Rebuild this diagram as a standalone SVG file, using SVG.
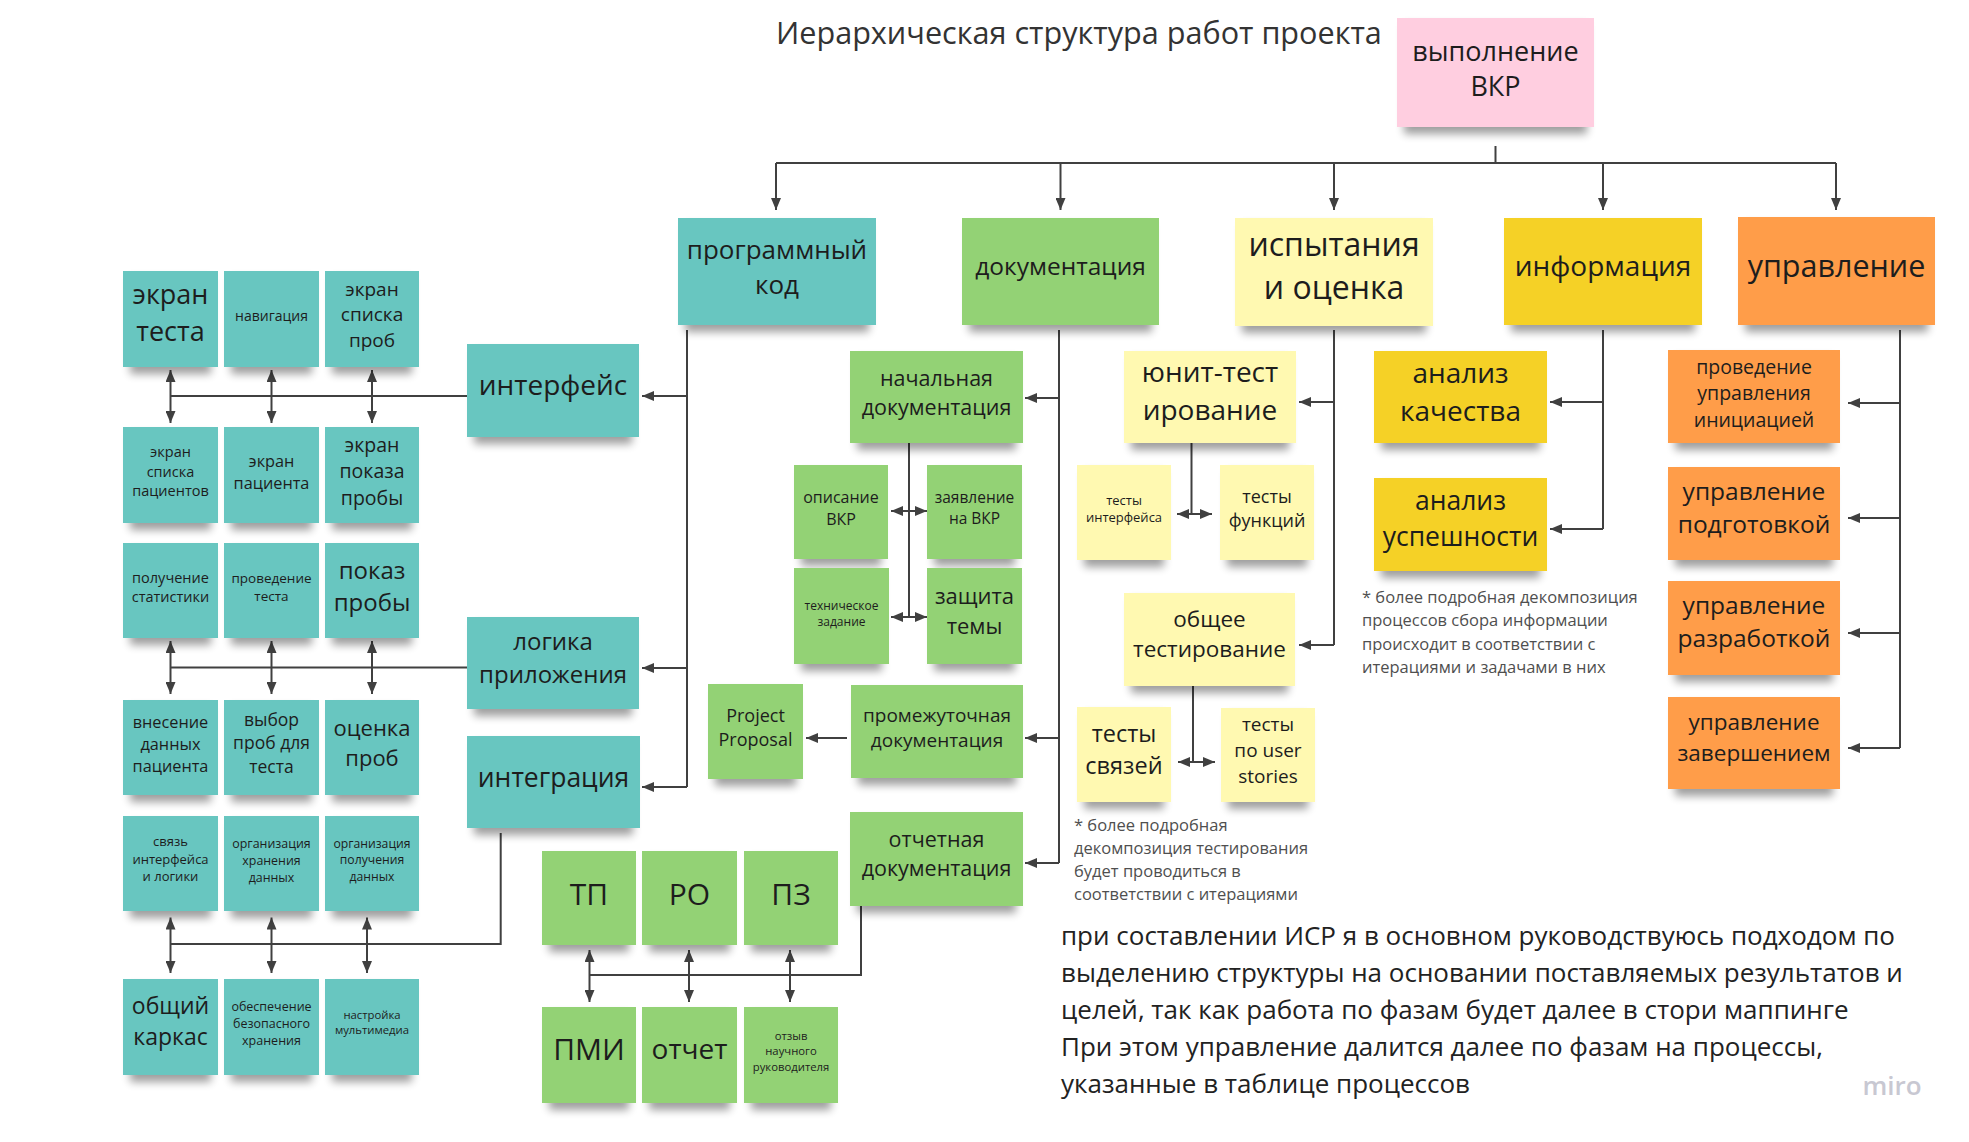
<svg xmlns="http://www.w3.org/2000/svg" width="1969" height="1142" viewBox="0 0 1969 1142">
<style>
text { font-family: "Open Sans", "Noto Sans", "DejaVu Sans", sans-serif; fill: #1d1d1d; text-anchor: middle; }
.lt { text-anchor: start; }
.note { fill: #4f4f4f; font-size: 16.5px; }
.s { filter: url(#sh); }
.teal { fill: #67c6c0; }
.green { fill: #93d275; }
.ly { fill: #fff9b1; }
.yel { fill: #f5d128; }
.org { fill: #ff9d48; }
.pink { fill: #ffcee0; }
.c { stroke: #404040; stroke-width: 2; fill: none; }
.a { marker-end: url(#ah); }
.d { marker-start: url(#ah); marker-end: url(#ah); }
</style>
<defs>
<filter id="sh" x="-10%" y="-10%" width="120%" height="140%">
<feMorphology in="SourceAlpha" operator="erode" radius="7 0" result="e"/>
<feOffset in="e" dy="7" result="o"/>
<feGaussianBlur in="o" stdDeviation="4" result="b"/>
<feComponentTransfer in="b" result="t"><feFuncA type="linear" slope="0.38"/></feComponentTransfer>
<feMerge><feMergeNode in="t"/><feMergeNode in="SourceGraphic"/></feMerge>
</filter>
<marker id="ah" viewBox="0 0 12 10" refX="12" refY="5" markerWidth="12" markerHeight="10" markerUnits="userSpaceOnUse" orient="auto-start-reverse">
<path d="M0,0 L12,5 L0,10 z" fill="#404040"/>
</marker>
</defs>
<rect width="1969" height="1142" fill="#ffffff"/>

<text class="lt" x="776" y="44" font-size="30.6" style="fill:#333">Иерархическая структура работ проекта</text>

<g id="connectors">
<path class="c" d="M1495.5,146 V163"/>
<path class="c" d="M776,163 H1836"/>
<path class="c a" d="M776,163 V210"/>
<path class="c a" d="M1060.5,163 V210"/>
<path class="c a" d="M1334,163 V210"/>
<path class="c a" d="M1603,163 V210"/>
<path class="c a" d="M1836,163 V210"/>
<path class="c" d="M687,330 V787"/>
<path class="c a" d="M687,396 H642"/>
<path class="c a" d="M687,668 H642"/>
<path class="c a" d="M687,787 H642"/>
<path class="c" d="M170.5,396 H467"/>
<path class="c d" d="M170.5,370 V423"/>
<path class="c d" d="M271.5,370 V423"/>
<path class="c d" d="M372,370 V423"/>
<path class="c" d="M170.5,667.5 H467"/>
<path class="c d" d="M170.5,641 V694"/>
<path class="c d" d="M271.5,641 V694"/>
<path class="c d" d="M372,641 V694"/>
<path class="c" d="M500.7,833 V944 H170.5"/>
<path class="c d" d="M170.5,917.5 V973"/>
<path class="c d" d="M271.5,917.5 V973"/>
<path class="c d" d="M367,917.5 V973"/>
<path class="c" d="M1059,330 V863"/>
<path class="c a" d="M1059,398 H1025"/>
<path class="c a" d="M1059,738 H1025"/>
<path class="c a" d="M1059,863 H1025"/>
<path class="c" d="M909,443 V617"/>
<path class="c d" d="M891,511 H927"/>
<path class="c d" d="M891,617 H927"/>
<path class="c a" d="M847,738 H806"/>
<path class="c" d="M861,906 V975 H589.5"/>
<path class="c d" d="M589.5,950 V1002"/>
<path class="c d" d="M689,950 V1002"/>
<path class="c d" d="M790,950 V1002"/>
<path class="c" d="M1334,330 V645"/>
<path class="c a" d="M1334,402 H1299"/>
<path class="c a" d="M1334,645 H1299"/>
<path class="c" d="M1191.5,443 V514"/>
<path class="c d" d="M1177,514 H1212"/>
<path class="c" d="M1193,686 V762"/>
<path class="c d" d="M1178,762 H1215"/>
<path class="c" d="M1603,330 V529"/>
<path class="c a" d="M1603,402 H1550"/>
<path class="c a" d="M1603,529 H1550"/>
<path class="c" d="M1900,330 V748"/>
<path class="c a" d="M1900,403 H1848"/>
<path class="c a" d="M1900,518 H1848"/>
<path class="c a" d="M1900,633 H1848"/>
<path class="c a" d="M1900,748 H1848"/>
</g>

<g id="n-root"><rect class="s pink" x="1397" y="18" width="197" height="109"/><text x="1495.5" y="61" font-size="27"><tspan x="1495.5">выполнение</tspan><tspan x="1495.5" dy="35.4">ВКР</tspan></text></g>

<g id="n-code"><rect class="s teal" x="678" y="218" width="198" height="107"/><text x="777" y="258.5" font-size="26"><tspan x="777">программный</tspan><tspan x="777" dy="35.4">код</tspan></text></g>
<g id="n-docs"><rect class="s green" x="962" y="218" width="197" height="107"/><text x="1060.5" y="275" font-size="24.5">документация</text></g>
<g id="n-tests"><rect class="s ly" x="1235" y="218" width="198" height="108"/><text x="1334" y="255.5" font-size="32"><tspan x="1334">испытания</tspan><tspan x="1334" dy="43.5">и оценка</tspan></text></g>
<g id="n-info"><rect class="s yel" x="1504" y="218" width="198" height="107"/><text x="1603" y="276" font-size="28">информация</text></g>
<g id="n-mgmt"><rect class="s org" x="1738" y="217" width="197" height="108"/><text x="1836.5" y="277" font-size="30.5">управление</text></g>

<g id="n-interface"><rect class="s teal" x="467" y="344" width="172" height="93"/><text x="553" y="395" font-size="28">интерфейс</text></g>
<g id="n-logic"><rect class="s teal" x="467" y="617" width="172" height="92"/><text x="553" y="650" font-size="24"><tspan x="553">логика</tspan><tspan x="553" dy="32.6">приложения</tspan></text></g>
<g id="n-integration"><rect class="s teal" x="467" y="736" width="173" height="92"/><text x="553.5" y="787" font-size="26.5">интеграция</text></g>

<g id="n-r1c1"><rect class="s teal" x="123" y="271" width="95" height="96"/><text x="170.5" y="304" font-size="27"><tspan x="170.5">экран</tspan><tspan x="170.5" dy="36.7">теста</tspan></text></g>
<g id="n-r1c2"><rect class="s teal" x="224" y="271" width="95" height="96"/><text x="271.5" y="321" font-size="14">навигация</text></g>
<g id="n-r1c3"><rect class="s teal" x="325" y="271" width="94" height="96"/><text x="372" y="295.5" font-size="19"><tspan x="372">экран</tspan><tspan x="372" dy="25.8">списка</tspan><tspan x="372" dy="25.8">проб</tspan></text></g>
<g id="n-r2c1"><rect class="s teal" x="123" y="427" width="95" height="96"/><text x="170.5" y="457" font-size="14.5"><tspan x="170.5">экран</tspan><tspan x="170.5" dy="19.7">списка</tspan><tspan x="170.5" dy="19.7">пациентов</tspan></text></g>
<g id="n-r2c2"><rect class="s teal" x="224" y="427" width="95" height="96"/><text x="271.5" y="466.5" font-size="16.3"><tspan x="271.5">экран</tspan><tspan x="271.5" dy="22.2">пациента</tspan></text></g>
<g id="n-r2c3"><rect class="s teal" x="325" y="427" width="94" height="96"/><text x="372" y="451.5" font-size="19.5"><tspan x="372">экран</tspan><tspan x="372" dy="26.5">показа</tspan><tspan x="372" dy="26.5">пробы</tspan></text></g>
<g id="n-r3c1"><rect class="s teal" x="123" y="543" width="95" height="95"/><text x="170.5" y="582.5" font-size="14.5"><tspan x="170.5">получение</tspan><tspan x="170.5" dy="19.7">статистики</tspan></text></g>
<g id="n-r3c2"><rect class="s teal" x="224" y="543" width="95" height="95"/><text x="271.5" y="583" font-size="13.5"><tspan x="271.5">проведение</tspan><tspan x="271.5" dy="18.4">теста</tspan></text></g>
<g id="n-r3c3"><rect class="s teal" x="325" y="543" width="94" height="95"/><text x="372" y="578.5" font-size="24"><tspan x="372">показ</tspan><tspan x="372" dy="32.6">пробы</tspan></text></g>
<g id="n-r4c1"><rect class="s teal" x="123" y="700" width="95" height="95"/><text x="170.5" y="727.5" font-size="16.3"><tspan x="170.5">внесение</tspan><tspan x="170.5" dy="22.2">данных</tspan><tspan x="170.5" dy="22.2">пациента</tspan></text></g>
<g id="n-r4c2"><rect class="s teal" x="224" y="700" width="95" height="95"/><text x="271.5" y="725.5" font-size="17.5"><tspan x="271.5">выбор</tspan><tspan x="271.5" dy="23.8">проб для</tspan><tspan x="271.5" dy="23.8">теста</tspan></text></g>
<g id="n-r4c3"><rect class="s teal" x="325" y="700" width="94" height="95"/><text x="372" y="735.5" font-size="22"><tspan x="372">оценка</tspan><tspan x="372" dy="30">проб</tspan></text></g>
<g id="n-r5c1"><rect class="s teal" x="123" y="816" width="95" height="95"/><text x="170.5" y="846" font-size="13"><tspan x="170.5">связь</tspan><tspan x="170.5" dy="17.7">интерфейса</tspan><tspan x="170.5" dy="17.7">и логики</tspan></text></g>
<g id="n-r5c2"><rect class="s teal" x="224" y="816" width="95" height="95"/><text x="271.5" y="848" font-size="12.4"><tspan x="271.5">организация</tspan><tspan x="271.5" dy="16.9">хранения</tspan><tspan x="271.5" dy="16.9">данных</tspan></text></g>
<g id="n-r5c3"><rect class="s teal" x="325" y="816" width="94" height="95"/><text x="372" y="847.5" font-size="12.2"><tspan x="372">организация</tspan><tspan x="372" dy="16.6">получения</tspan><tspan x="372" dy="16.6">данных</tspan></text></g>
<g id="n-r6c1"><rect class="s teal" x="123" y="979" width="95" height="96"/><text x="170.5" y="1013.5" font-size="23"><tspan x="170.5">общий</tspan><tspan x="170.5" dy="31.3">каркас</tspan></text></g>
<g id="n-r6c2"><rect class="s teal" x="224" y="979" width="95" height="96"/><text x="271.5" y="1010.5" font-size="12.5"><tspan x="271.5">обеспечение</tspan><tspan x="271.5" dy="17">безопасного</tspan><tspan x="271.5" dy="17">хранения</tspan></text></g>
<g id="n-r6c3"><rect class="s teal" x="325" y="979" width="94" height="96"/><text x="372" y="1019" font-size="11.3"><tspan x="372">настройка</tspan><tspan x="372" dy="15.4">мультимедиа</tspan></text></g>

<g id="n-initdoc"><rect class="s green" x="850" y="351" width="173" height="92"/><text x="936.5" y="385.5" font-size="21.5"><tspan x="936.5">начальная</tspan><tspan x="936.5" dy="29.2">документация</tspan></text></g>
<g id="n-desc"><rect class="s green" x="794" y="465" width="94" height="94"/><text x="841" y="503" font-size="16"><tspan x="841">описание</tspan><tspan x="841" dy="21.8">ВКР</tspan></text></g>
<g id="n-appl"><rect class="s green" x="927" y="465" width="95" height="94"/><text x="974.5" y="503" font-size="15.5"><tspan x="974.5">заявление</tspan><tspan x="974.5" dy="21">на ВКР</tspan></text></g>
<g id="n-tz"><rect class="s green" x="794" y="568" width="95" height="96"/><text x="841.5" y="609.5" font-size="12"><tspan x="841.5">техническое</tspan><tspan x="841.5" dy="16.3">задание</tspan></text></g>
<g id="n-defense"><rect class="s green" x="927" y="568" width="95" height="96"/><text x="974.5" y="604" font-size="22"><tspan x="974.5">защита</tspan><tspan x="974.5" dy="30">темы</tspan></text></g>
<g id="n-middoc"><rect class="s green" x="851" y="685" width="172" height="93"/><text x="937" y="721.5" font-size="19"><tspan x="937">промежуточная</tspan><tspan x="937" dy="25.8">документация</tspan></text></g>
<g id="n-proposal"><rect class="s green" x="708" y="684" width="95" height="95"/><text x="755.5" y="721.5" font-size="18"><tspan x="755.5">Project</tspan><tspan x="755.5" dy="24.5">Proposal</tspan></text></g>
<g id="n-repdoc"><rect class="s green" x="850" y="812" width="173" height="94"/><text x="936.5" y="847" font-size="21.5"><tspan x="936.5">отчетная</tspan><tspan x="936.5" dy="29.2">документация</tspan></text></g>
<g id="n-tp"><rect class="s green" x="542" y="851" width="94" height="94"/><text x="589" y="905" font-size="30">ТП</text></g>
<g id="n-ro"><rect class="s green" x="642" y="851" width="95" height="94"/><text x="689.5" y="905" font-size="30">РО</text></g>
<g id="n-pz"><rect class="s green" x="744" y="851" width="94" height="94"/><text x="791" y="905" font-size="30">ПЗ</text></g>
<g id="n-pmi"><rect class="s green" x="542" y="1007" width="94" height="96"/><text x="589" y="1060" font-size="30">ПМИ</text></g>
<g id="n-report"><rect class="s green" x="642" y="1007" width="95" height="96"/><text x="689.5" y="1059" font-size="28">отчет</text></g>
<g id="n-review"><rect class="s green" x="744" y="1007" width="94" height="96"/><text x="791" y="1040" font-size="11.3"><tspan x="791">отзыв</tspan><tspan x="791" dy="15.4">научного</tspan><tspan x="791" dy="15.4">руководителя</tspan></text></g>

<g id="n-unit"><rect class="s ly" x="1124" y="351" width="172" height="92"/><text x="1210" y="382" font-size="28"><tspan x="1210">юнит-тест</tspan><tspan x="1210" dy="38">ирование</tspan></text></g>
<g id="n-uitests"><rect class="s ly" x="1077" y="465" width="94" height="95"/><text x="1124" y="504.5" font-size="13"><tspan x="1124">тесты</tspan><tspan x="1124" dy="17.7">интерфейса</tspan></text></g>
<g id="n-functests"><rect class="s ly" x="1220" y="465" width="94" height="95"/><text x="1267" y="502.5" font-size="18"><tspan x="1267">тесты</tspan><tspan x="1267" dy="24.5">функций</tspan></text></g>
<g id="n-general"><rect class="s ly" x="1124" y="593" width="171" height="93"/><text x="1209.5" y="626.5" font-size="22.5"><tspan x="1209.5">общее</tspan><tspan x="1209.5" dy="30.6">тестирование</tspan></text></g>
<g id="n-linktests"><rect class="s ly" x="1077" y="707" width="94" height="95"/><text x="1124" y="742" font-size="23.5"><tspan x="1124">тесты</tspan><tspan x="1124" dy="32">связей</tspan></text></g>
<g id="n-ustests"><rect class="s ly" x="1221" y="708" width="94" height="94"/><text x="1268" y="731" font-size="19"><tspan x="1268">тесты</tspan><tspan x="1268" dy="26">по user</tspan><tspan x="1268" dy="26">stories</tspan></text></g>

<g id="n-quality"><rect class="s yel" x="1374" y="351" width="173" height="92"/><text x="1460.5" y="382.5" font-size="28"><tspan x="1460.5">анализ</tspan><tspan x="1460.5" dy="38">качества</tspan></text></g>
<g id="n-success"><rect class="s yel" x="1374" y="478" width="173" height="93"/><text x="1460.5" y="510" font-size="26.5"><tspan x="1460.5">анализ</tspan><tspan x="1460.5" dy="36">успешности</tspan></text></g>

<g id="n-m1"><rect class="s org" x="1668" y="350" width="172" height="93"/><text x="1754" y="373.5" font-size="19.5"><tspan x="1754">проведение</tspan><tspan x="1754" dy="26.5">управления</tspan><tspan x="1754" dy="26.5">инициацией</tspan></text></g>
<g id="n-m2"><rect class="s org" x="1668" y="467" width="172" height="93"/><text x="1754" y="499.5" font-size="24.5"><tspan x="1754">управление</tspan><tspan x="1754" dy="33.3">подготовкой</tspan></text></g>
<g id="n-m3"><rect class="s org" x="1668" y="581" width="172" height="94"/><text x="1754" y="614" font-size="24.5"><tspan x="1754">управление</tspan><tspan x="1754" dy="33.3">разработкой</tspan></text></g>
<g id="n-m4"><rect class="s org" x="1668" y="697" width="172" height="92"/><text x="1754" y="730" font-size="22.5"><tspan x="1754">управление</tspan><tspan x="1754" dy="30.6">завершением</tspan></text></g>

<g id="notes">
<text class="lt note" x="1362" y="603"><tspan x="1362">* более подробная декомпозиция</tspan><tspan x="1362" dy="23.3">процессов сбора информации</tspan><tspan x="1362" dy="23.3">происходит в соответствии с</tspan><tspan x="1362" dy="23.3">итерациями и задачами в них</tspan></text>
<text class="lt note" x="1074" y="831"><tspan x="1074">* более подробная</tspan><tspan x="1074" dy="23">декомпозиция тестирования</tspan><tspan x="1074" dy="23">будет проводиться в</tspan><tspan x="1074" dy="23">соответствии с итерациями</tspan></text>
<text class="lt" x="1061" y="945" font-size="26" style="fill:#222"><tspan x="1061">при составлении ИСР я в основном руководствуюсь подходом по</tspan><tspan x="1061" dy="37">выделению структуры на основании поставляемых результатов и</tspan><tspan x="1061" dy="37">целей, так как работа по фазам будет далее в стори маппинге</tspan><tspan x="1061" dy="37">При этом управление далится далее по фазам на процессы,</tspan><tspan x="1061" dy="37">указанные в таблице процессов</tspan></text>
<text x="1892" y="1095" font-size="26" font-weight="600" style="fill:#c8c8d2">miro</text>
</g>
</svg>
